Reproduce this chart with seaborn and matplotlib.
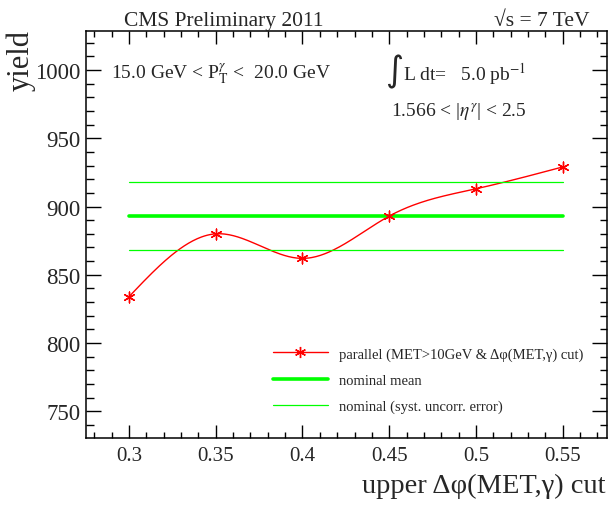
import numpy as np
import pandas as pd
import matplotlib
matplotlib.use("Agg")
import matplotlib.pyplot as plt
import seaborn as sns
from matplotlib.ticker import MultipleLocator
from matplotlib.lines import Line2D

# ---- data ----
cuts = [0.30, 0.35, 0.40, 0.45, 0.50, 0.55]
yields = [834, 880, 862, 893, 913, 929]
nominal_mean = 893
nominal_err = 25
x_ticks = [0.3, 0.35, 0.4, 0.45, 0.5, 0.55]
x_tick_labels = ["0.3", "0.35", "0.4", "0.45", "0.5", "0.55"]
y_ticks = [750, 800, 850, 900, 950, 1000]
y_tick_labels = ["750", "800", "850", "900", "950", "1000"]

sns.set_theme(style="white")
plt.rcParams["font.family"] = ["Liberation Serif", "DejaVu Serif"]
plt.rcParams["mathtext.fontset"] = "stix"


def natural_spline(x, y, xs):
    x = np.asarray(x, float)
    y = np.asarray(y, float)
    n = len(x)
    h = np.diff(x)
    A = np.zeros((n, n))
    b = np.zeros(n)
    A[0, 0] = A[-1, -1] = 1
    for i in range(1, n - 1):
        A[i, i - 1] = h[i - 1]
        A[i, i] = 2 * (h[i - 1] + h[i])
        A[i, i + 1] = h[i]
        b[i] = 3 * ((y[i + 1] - y[i]) / h[i] - (y[i] - y[i - 1]) / h[i - 1])
    c = np.linalg.solve(A, b)
    out = np.empty_like(xs)
    for k, t in enumerate(xs):
        i = min(max(np.searchsorted(x, t) - 1, 0), n - 2)
        bi = (y[i + 1] - y[i]) / h[i] - h[i] * (2 * c[i] + c[i + 1]) / 3
        di = (c[i + 1] - c[i]) / (3 * h[i])
        dx = t - x[i]
        out[k] = y[i] + bi * dx + c[i] * dx ** 2 + di * dx ** 3
    return out


W, H = 610, 506
fig = plt.figure(figsize=(W / 100, H / 100), dpi=100)
ax_l, ax_r, ax_t, ax_b = 85.7, 606.7, 32.0, 439.3
ax = fig.add_axes([ax_l / W, 1 - ax_b / H, (ax_r - ax_l) / W, (ax_b - ax_t) / H])


def axfrac(px, py):
    return (px - ax_l) / (ax_r - ax_l), (ax_b - py) / (ax_b - ax_t)


xs = np.linspace(cuts[0], cuts[-1], 300)
curve = pd.DataFrame({"x": xs, "y": natural_spline(cuts, yields, xs)})
pts = pd.DataFrame({"x": cuts, "y": yields})

red = "#ff0000"
green = "#00ff00"

sns.lineplot(data=curve, x="x", y="y", color=red, lw=1, ax=ax, sort=False)
sns.scatterplot(data=pts, x="x", y="y", marker=(6, 2, 0), s=60, color=red,
                edgecolor=red, linewidth=1, ax=ax, zorder=5)

span = [cuts[0], cuts[-1]]
sns.lineplot(x=span, y=[nominal_mean] * 2, color=green, lw=2.6, ax=ax)
sns.lineplot(x=span, y=[nominal_mean + nominal_err] * 2, color=green, lw=0.9, ax=ax)
sns.lineplot(x=span, y=[nominal_mean - nominal_err] * 2, color=green, lw=0.9, ax=ax)

ax.set_xlim(0.275, 0.5754)
ax.set_ylim(730.2, 1028.6)
ax.set_xticks(x_ticks)
ax.set_xticklabels(x_tick_labels, fontsize=15)
ax.set_yticks(y_ticks)
ax.set_yticklabels(y_tick_labels, fontsize=16.5)
ax.xaxis.set_minor_locator(MultipleLocator(0.01))
ax.yaxis.set_minor_locator(MultipleLocator(10))
ax.tick_params(which="both", direction="in", top=True, right=True,
               bottom=True, left=True, color="black", width=1)
ax.tick_params(axis="x", which="major", length=9.1, pad=5.5)
ax.tick_params(axis="x", which="minor", length=4.3)
ax.tick_params(axis="y", which="major", length=10.8, pad=4)
ax.tick_params(axis="y", which="minor", length=5.4)
for s in ax.spines.values():
    s.set_color("black")
    s.set_linewidth(1.1)

ax.set_xlabel("upper Δφ(MET,γ) cut", fontsize=20.5)
ax.xaxis.set_label_coords(*axfrac(605, 474))
ax.xaxis.label.set_horizontalalignment("right")
ax.xaxis.label.set_verticalalignment("top")
ax.set_ylabel("yield", fontsize=22)
ax.yaxis.set_label_coords(*axfrac(21, 30))
ax.yaxis.label.set_horizontalalignment("right")
ax.yaxis.label.set_verticalalignment("center")

fig.text(124 / W, 1 - 26 / H, "CMS Preliminary 2011", fontsize=15.5,
         ha="left", va="baseline")
fig.text(590 / W, 1 - 26 / H, "√s = 7 TeV", fontsize=15.5,
         ha="right", va="baseline")

ax.text(*axfrac(111, 74), r"15.0 GeV < P$_{\mathrm{T}}^{\gamma}$ <  20.0 GeV",
        transform=ax.transAxes, fontsize=14, va="center")
ax.text(*axfrac(385, 72), "∫", transform=ax.transAxes, fontsize=25,
        family=["DejaVu Sans"], va="center", ha="left")
ax.text(*axfrac(403, 74), r"L dt=   5.0 pb$^{\mathrm{-1}}$",
        transform=ax.transAxes, fontsize=14, va="center")
ax.text(*axfrac(391, 112), r"1.566 < |$\eta^{\gamma}$| < 2.5",
        transform=ax.transAxes, fontsize=14, va="center")

handles = [
    Line2D([], [], color=red, lw=1, marker=(6, 2, 0), markersize=8,
           markeredgecolor=red),
    Line2D([], [], color=green, lw=2.6),
    Line2D([], [], color=green, lw=0.9),
]
labels = [
    "parallel (MET>10GeV & Δφ(MET,γ) cut)",
    "nominal mean",
    "nominal (syst. uncorr. error)",
]
leg = ax.legend(handles, labels, loc="center left",
                bbox_to_anchor=axfrac(267, 381),
                frameon=False, fontsize=10.5, handlelength=3.77,
                handletextpad=0.75, labelspacing=0.88, borderaxespad=0)

fig.savefig("out.png", dpi=100, facecolor="white")
